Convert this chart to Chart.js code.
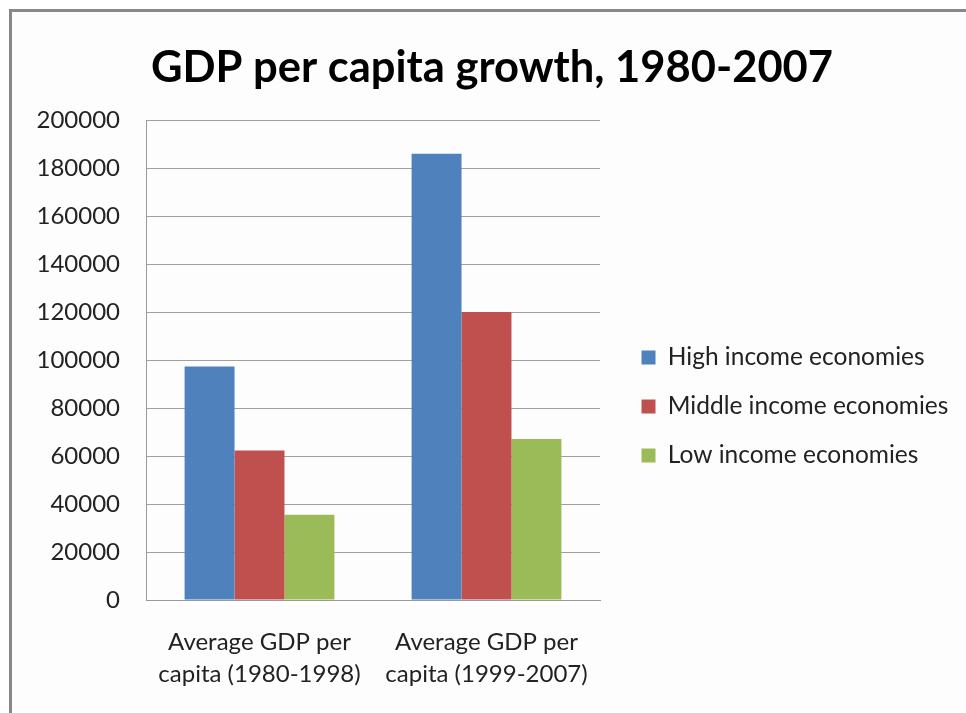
<!DOCTYPE html>
<html>
<head>
<meta charset="utf-8">
<script src="https://cdn.jsdelivr.net/npm/chart.js@4"></script>
<style>
  body { margin: 0; background: #ffffff; }
  #frame { position: absolute; left: 9px; top: 9px; width: 960px; height: 710px;
           border-left: 3px solid #888888; border-top: 3px solid #888888; background: #fdfdfd; }
  #wrap { position: absolute; left: 0; top: 0; width: 966px; height: 713px; }
</style>
</head>
<body>
<div id="frame"></div>
<div id="wrap"><canvas id="myChart" width="966" height="713"></canvas></div>
<script>
//CHART DATA
////////////////////////////////////////////////////////////////////
var categories = [
    ["Average GDP per", "capita (1980-1998)"],
    ["Average GDP per", "capita (1999-2007)"]
];
var seriesNames = ["High income economies", "Middle income economies", "Low income economies"];
var highIncome = [97300, 186000];
var middleIncome = [62300, 120000];
var lowIncome = [35500, 67100];
var yTicks = [0, 20000, 40000, 60000, 80000, 100000, 120000, 140000, 160000, 180000, 200000];

var colors = ["#4F81BD", "#C0504D", "#9BBB59"];
var fontName = "Lato";
var legendWidth = 349;

//the right legend is capped at a part of the canvas width, so set its width after fit
var legendWidthPlugin = {
    id: "legendWidth",
    beforeLayout: function (chart) {
        var legend = chart.legend;
        if (legend && !legend._widthPatched) {
            var origFit = legend.fit;
            legend.fit = function () {
                origFit.call(this);
                this.width = legendWidth;
            };
            legend._widthPatched = true;
        }
    }
};

//DRAW THE CHART
////////////////////////////////////////////////////////////////////
function displayChart() {
    var values = [highIncome, middleIncome, lowIncome];
    var datasets = [];
    for (var i = 0; i < seriesNames.length; i++) {
        datasets.push({
            label: seriesNames[i],
            data: values[i],
            backgroundColor: colors[i],
            borderWidth: 0,
            categoryPercentage: 0.66,
            barPercentage: 1.0
        });
    }

    new Chart(document.getElementById("myChart"), {
        type: "bar",
        data: {
            labels: categories,
            datasets: datasets
        },
        plugins: [legendWidthPlugin],
        options: {
            responsive: false,
            animation: false,
            layout: {
                padding: { left: 18, right: 0, top: 0, bottom: 0 }
            },
            plugins: {
                title: {
                    display: true,
                    text: "GDP per capita growth, 1980-2007",
                    color: "#000000",
                    font: { family: fontName, size: 43.5, weight: "bold" },
                    padding: { top: 42, bottom: 26 }
                },
                legend: {
                    position: "right",
                    //blank legend title only pushes the items down
                    title: {
                        display: true,
                        text: " ",
                        font: { family: fontName, size: 10, lineHeight: 1.2 },
                        padding: { top: 88, bottom: 0 }
                    },
                    labels: {
                        color: "#222222",
                        font: { family: fontName, size: 24.5 },
                        boxWidth: 14,
                        boxHeight: 14,
                        padding: 24.5
                    }
                },
                tooltip: { enabled: false }
            },
            scales: {
                x: {
                    grid: { display: false },
                    border: { display: true, color: "#999999", width: 1 },
                    ticks: {
                        color: "#222222",
                        font: { family: fontName, size: 24, lineHeight: 1.33 },
                        padding: 18,
                        maxRotation: 0
                    },
                    afterFit: function (scale) { scale.height = 113; }
                },
                y: {
                    min: 0,
                    max: 200000,
                    afterBuildTicks: function (scale) {
                        scale.ticks = yTicks.map(function (v) { return { value: v }; });
                    },
                    grid: { color: "#a0a0a0", drawTicks: false },
                    border: { display: true, color: "#999999", width: 1 },
                    ticks: {
                        color: "#222222",
                        font: { family: fontName, size: 24 },
                        padding: 26,
                        callback: function (value) { return String(value); }
                    },
                    afterFit: function (scale) { scale.width = 128; }
                },
                //empty axis only used as a gap between the plot and the legend
                gap: {
                    type: "linear",
                    position: "right",
                    grid: { display: false },
                    border: { display: false },
                    ticks: { display: false },
                    afterFit: function (scale) { scale.width = 17; }
                }
            }
        }
    });
}

displayChart();
</script>
</body>
</html>
